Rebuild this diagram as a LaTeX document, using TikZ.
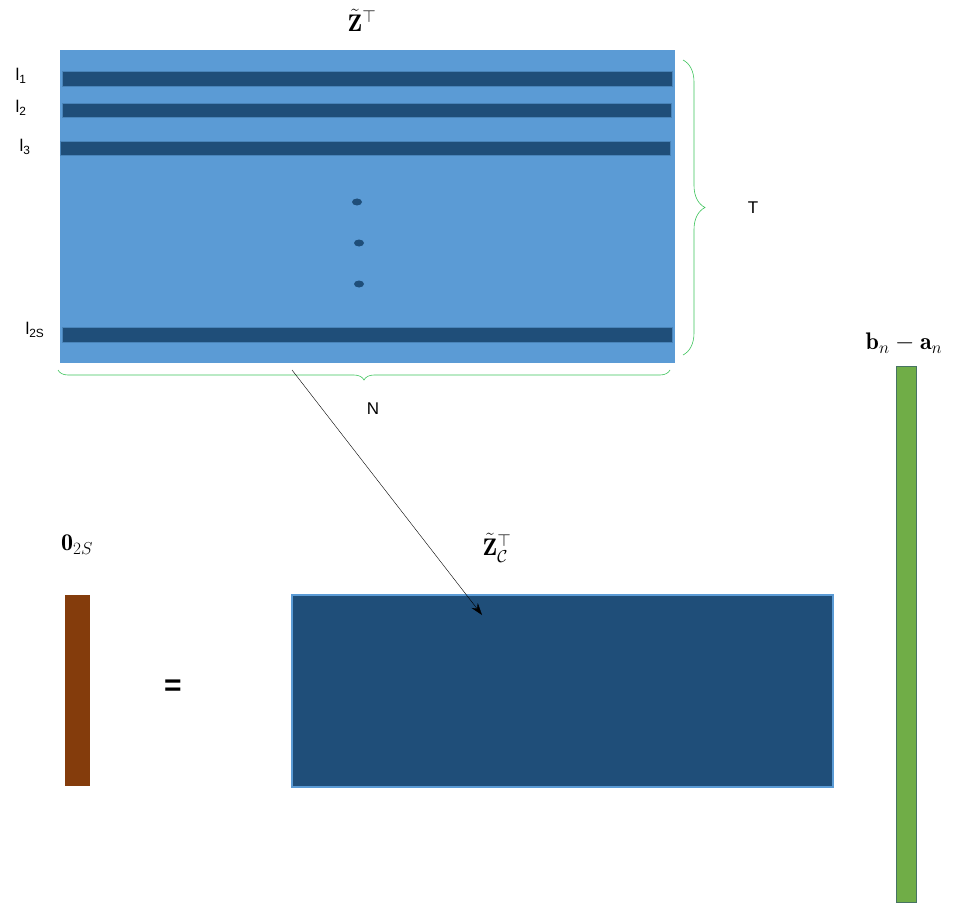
\documentclass[tikz,border=0pt]{standalone}
\usepackage{amsmath,amssymb}
\usepackage{fontspec}
\newfontfamily\lab{Liberation Sans}
\usetikzlibrary{decorations.pathreplacing,arrows.meta}
\definecolor{lb}{HTML}{5B9BD5}
\definecolor{db}{HTML}{1F4E79}
\definecolor{br}{HTML}{843C0C}
\definecolor{gr}{HTML}{70AD47}
\definecolor{brc}{HTML}{3CC35A}
\begin{document}
\begin{tikzpicture}[x=1pt,y=-1pt,
  bar/.style={fill=db,draw=lb!70!db,line width=1pt},
  brc/.style={draw=brc,line width=0.6pt,decorate},
  lbl/.style={font=\lab\fontsize{17}{20}\selectfont,inner sep=0pt},
  mth/.style={font=\fontsize{24}{28}\selectfont}]
\useasboundingbox (0,0) rectangle (958,904);
\fill[lb] (60,50) rectangle (675,363);
\path[bar] (62,72) rectangle (672,87);
\path[bar] (62,104) rectangle (671,118);
\path[bar] (60,142) rectangle (670,156);
\path[bar] (62,327) rectangle (672,342);
\foreach \x/\y in {357/202,359/243,359/284} \fill[db] (\x,\y) ellipse (5 and 3.5);
\node[lbl] at (21,76) {l\textsubscript{1}};
\node[lbl] at (21,108) {l\textsubscript{2}};
\node[lbl] at (25,147) {l\textsubscript{3}};
\node[lbl] at (35,330) {l\textsubscript{2S}};
\node[mth] (zt) at (362,20) {$\tilde{\mathbf Z}^\top$};
\draw[brc,decoration={brace,amplitude=22pt}] (683,60) -- (683,355);
\node[lbl] (T) at (753,208) {T};
\draw[brc,decoration={brace,mirror,amplitude=10pt}] (58,370) -- (670,370);
\node[lbl] (N) at (373,409) {N};
\path[fill=db,draw=lb,line width=2.5pt] (292,595) rectangle (833,787);
\coordinate (s) at (292,370);
\coordinate (e) at (482,615);
\draw[-{Stealth[length=12pt,width=8pt]}] (s) -- (e);
\node[mth] at (497,548) {$\tilde{\mathbf Z}^\top_{\mathcal C}$};
\fill[br] (65,595) rectangle (90,786);
\node[mth] at (77,545) {$\mathbf 0_{2S}$};
\node[font=\lab\bfseries\fontsize{30}{34}\selectfont] at (173,688) {=};
\path[fill=gr,draw=lb!50!gr!70!black,line width=1pt] (896,366) rectangle (916,902);
\node[mth] at (904,343) {$\mathbf b_n-\mathbf a_n$};
\end{tikzpicture}
\end{document}
